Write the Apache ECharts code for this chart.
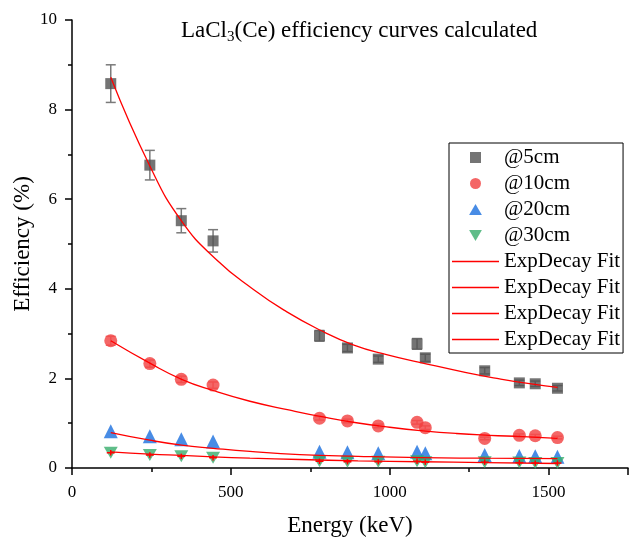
<!DOCTYPE html>
<html>
<head>
<meta charset="utf-8">
<script src="https://cdn.jsdelivr.net/npm/echarts@6/dist/echarts.min.js"></script>
<style>
  html, body { margin: 0; padding: 0; background: #fff; }
  #chart { width: 629px; height: 539px; }
</style>
</head>
<body>
<div id="chart"></div>
<script>
// Gamma-line energies (keV) shared by all four source distances
const energy = [122, 245, 344, 444, 779, 867, 964, 1086, 1112, 1299, 1408, 1458, 1528];

// Measured full-energy-peak efficiencies (%) and their uncertainties
const eff5  = [8.58, 6.76, 5.52, 5.07, 2.95, 2.68, 2.43, 2.77, 2.46, 2.17, 1.90, 1.88, 1.78];
const err5  = [0.42, 0.33, 0.27, 0.25, 0.12, 0.08, 0.07, 0.12, 0.08, 0.07, 0.06, 0.06, 0.06];
const eff10 = [2.84, 2.33, 1.98, 1.85, 1.11, 1.05, 0.94, 1.02, 0.90, 0.66, 0.73, 0.72, 0.68];
const err10 = [0.10, 0.08, 0.07, 0.07, 0.04, 0.04, 0.04, 0.04, 0.04, 0.03, 0.03, 0.03, 0.03];
const eff20 = [0.82, 0.71, 0.64, 0.59, 0.36, 0.35, 0.33, 0.36, 0.33, 0.29, 0.27, 0.26, 0.25];
const eff30 = [0.34, 0.29, 0.26, 0.23, 0.15, 0.14, 0.14, 0.15, 0.13, 0.13, 0.12, 0.11, 0.11];
const err30 = [0.12, 0.12, 0.12, 0.12, 0.12, 0.12, 0.12, 0.12, 0.12, 0.12, 0.12, 0.12, 0.12];

// ExpDecay fit curves, sampled along energy
const fitE5  = [122, 245, 345, 453, 570, 675, 780, 885, 990, 1094, 1241, 1346, 1451, 1528];
const fit5   = [8.72, 6.74, 5.51, 4.66, 3.99, 3.49, 3.08, 2.75, 2.53, 2.36, 2.13, 1.99, 1.87, 1.80];
const fitE10 = [122, 245, 345, 444, 560, 686, 790, 895, 1000, 1105, 1210, 1314, 1419, 1528];
const fit10  = [2.84, 2.34, 1.98, 1.73, 1.49, 1.29, 1.14, 1.01, 0.91, 0.83, 0.77, 0.73, 0.70, 0.66];
const fitE20 = [122, 245, 345, 444, 560, 717, 900, 1100, 1300, 1528];
const fit20  = [0.79, 0.62, 0.51, 0.44, 0.37, 0.30, 0.26, 0.23, 0.22, 0.21];
const fitE30 = [122, 245, 345, 444, 560, 717, 900, 1100, 1300, 1528];
const fit30  = [0.36, 0.31, 0.28, 0.25, 0.22, 0.19, 0.16, 0.14, 0.12, 0.10];

// Axis ticks
const xMajorTicks = [0, 500, 1000, 1500];
const yTicks = [0, 2, 4, 6, 8, 10];

const seriesNames = ['@5cm', '@10cm', '@20cm', '@30cm'];
const fitNames = ['fit5', 'fit10', 'fit20', 'fit30'];
const fitLabel = 'ExpDecay Fit';

const SERIF = "'Liberation Serif', 'Times New Roman', serif";
const colors = ['#515151', '#F14040', '#1A6FDF', '#37AD6B'];

// Legend icons (aspect kept inside the legend item box)
const icons = {
  square: 'path://M0 0H10V10H0Z',
  circle: 'circle',
  up: 'path://M5 0L10 8.6L0 8.6Z',
  down: 'path://M0 0L10 0L5 8.6Z',
  line: 'path://M0 0H47V1.4H0Z'
};
const DOWN_TRIANGLE = 'path://M0 0L10 0L5 8.6Z';

const pairs = (xs, ys) => xs.map((x, i) => [x, ys[i]]);
const triples = (xs, ys, es) => xs.map((x, i) => [x, ys[i], es[i]]);

// Vertical error bar with end caps
function errorBar(color, capHalf) {
  return function (params, api) {
    const x = api.value(0), y = api.value(1), e = api.value(2);
    const top = api.coord([x, y + e]);
    const bot = api.coord([x, y - e]);
    const style = { stroke: color, lineWidth: 1.5 };
    return {
      type: 'group',
      children: [
        { type: 'line', shape: { x1: top[0], y1: top[1], x2: bot[0], y2: bot[1] }, style },
        { type: 'line', shape: { x1: top[0] - capHalf, y1: top[1], x2: top[0] + capHalf, y2: top[1] }, style },
        { type: 'line', shape: { x1: bot[0] - capHalf, y1: bot[1], x2: bot[0] + capHalf, y2: bot[1] }, style }
      ]
    };
  };
}

// Cross-shaped error mark (bar plus centre bar)
function crossBar(color, halfW) {
  return function (params, api) {
    const x = api.value(0), y = api.value(1), e = api.value(2);
    const top = api.coord([x, y + e / 2]);
    const bot = api.coord([x, y - e / 2]);
    const mid = api.coord([x, y]);
    const style = { stroke: color, lineWidth: 1.5 };
    return {
      type: 'group',
      children: [
        { type: 'line', shape: { x1: top[0], y1: top[1], x2: bot[0], y2: bot[1] }, style },
        { type: 'line', shape: { x1: mid[0] - halfW, y1: mid[1], x2: mid[0] + halfW, y2: mid[1] }, style }
      ]
    };
  };
}

const chart = echarts.init(document.getElementById('chart'), null, { renderer: 'canvas' });

const axisLineStyle = { color: '#000', width: 1.5 };
const fitLine = { color: '#ff0000', width: 1.3 };

const option = {
  animation: false,
  backgroundColor: '#fff',
  title: {
    text: '{n|LaCl}{s|3}{n|(Ce) efficiency curves calculated}',
    left: 176,
    top: 12,
    textStyle: {
      fontFamily: SERIF,
      color: '#000',
      fontWeight: 'normal',
      rich: {
        n: { fontFamily: SERIF, fontSize: 23, color: '#000', lineHeight: 28 },
        s: { fontFamily: SERIF, fontSize: 15, color: '#000', lineHeight: 28, padding: [12, 0, 0, 0] }
      }
    }
  },
  grid: { left: 72, right: 1, top: 20, bottom: 71, containLabel: false, outerBoundsMode: 'none' },
  legend: {
    orient: 'vertical',
    left: 449,
    top: 143,
    padding: [4, 3, 3, 3],
    itemGap: 5,
    itemWidth: 47,
    itemHeight: 11,
    symbolKeepAspect: true,
    borderColor: '#000',
    borderWidth: 1,
    borderRadius: 0,
    backgroundColor: '#fff',
    textStyle: { fontFamily: SERIF, fontSize: 21, color: '#000', lineHeight: 21 },
    data: [
      { name: '@5cm', icon: icons.square },
      { name: '@10cm', icon: icons.circle },
      { name: '@20cm', icon: icons.up },
      { name: '@30cm', icon: icons.down },
      { name: 'fit5', icon: icons.line },
      { name: 'fit10', icon: icons.line },
      { name: 'fit20', icon: icons.line },
      { name: 'fit30', icon: icons.line }
    ],
    formatter: name => (fitNames.indexOf(name) >= 0 ? fitLabel : name)
  },
  xAxis: [
    {
      type: 'value', min: 0, max: 1750, interval: 250,
      position: 'bottom',
      name: 'Energy (keV)', nameLocation: 'middle', nameGap: 46, nameMoveOverlap: false,
      nameTextStyle: { fontFamily: SERIF, fontSize: 23, color: '#000' },
      axisLine: { show: true, onZero: false, lineStyle: axisLineStyle },
      axisTick: { show: true, inside: false, length: 4, lineStyle: axisLineStyle },
      axisLabel: {
        fontFamily: SERIF, fontSize: 17, color: '#000', margin: 16,
        formatter: v => (xMajorTicks.indexOf(v) >= 0 ? String(v) : '')
      },
      splitLine: { show: false }
    },
    {
      type: 'value', min: 0, max: 1750, interval: 500,
      position: 'bottom',
      axisLine: { show: false, onZero: false },
      axisTick: { show: true, inside: false, length: 7, lineStyle: axisLineStyle },
      axisLabel: { show: false },
      splitLine: { show: false }
    }
  ],
  yAxis: {
    type: 'value', min: 0, max: 10, interval: 2,
    name: 'Efficiency (%)', nameLocation: 'middle', nameGap: 38, nameMoveOverlap: false,
    nameTextStyle: { fontFamily: SERIF, fontSize: 23, color: '#000' },
    axisLine: { show: true, onZero: false, lineStyle: axisLineStyle },
    axisTick: { show: true, inside: false, length: 7, lineStyle: axisLineStyle },
    minorTick: { show: true, splitNumber: 2, length: 4, lineStyle: axisLineStyle },
    axisLabel: {
      fontFamily: SERIF, fontSize: 17, color: '#000', margin: 15,
      formatter: v => (yTicks.indexOf(v) >= 0 ? String(v) : '')
    },
    splitLine: { show: false }
  },
  series: [
    // error bars
    { type: 'custom', name: 'err5', data: triples(energy, eff5, err5), renderItem: errorBar('#7a7a7a', 5), encode: { x: 0, y: 1 }, z: 1, silent: true },
    { type: 'custom', name: 'err10', data: triples(energy, eff10, err10), renderItem: errorBar('#f58a8a', 5), encode: { x: 0, y: 1 }, z: 1, silent: true },
    // measured points
    { type: 'scatter', name: '@5cm', data: pairs(energy, eff5), symbol: 'rect', symbolSize: 11, itemStyle: { color: colors[0] }, z: 2 },
    { type: 'scatter', name: '@10cm', data: pairs(energy, eff10), symbol: 'circle', symbolSize: 13, itemStyle: { color: colors[1] }, z: 2 },
    { type: 'scatter', name: '@20cm', data: pairs(energy, eff20), symbol: 'triangle', symbolSize: 14, itemStyle: { color: colors[2] }, z: 2 },
    { type: 'scatter', name: '@30cm', data: pairs(energy, eff30), symbol: DOWN_TRIANGLE, symbolSize: [14, 12], itemStyle: { color: colors[3] }, z: 2 },
    // fit curves
    { type: 'line', name: 'fit5', data: pairs(fitE5, fit5), smooth: 0.5, symbol: 'none', showSymbol: false, lineStyle: fitLine, itemStyle: { color: '#ff0000' }, z: 3 },
    { type: 'line', name: 'fit10', data: pairs(fitE10, fit10), smooth: 0.5, symbol: 'none', showSymbol: false, lineStyle: fitLine, itemStyle: { color: '#ff0000' }, z: 3 },
    { type: 'line', name: 'fit20', data: pairs(fitE20, fit20), smooth: 0.5, symbol: 'none', showSymbol: false, lineStyle: fitLine, itemStyle: { color: '#ff0000' }, z: 3 },
    { type: 'line', name: 'fit30', data: pairs(fitE30, fit30), smooth: 0.5, symbol: 'none', showSymbol: false, lineStyle: fitLine, itemStyle: { color: '#ff0000' }, z: 3 },
    // error marks on the 30 cm points
    { type: 'custom', name: 'err30', data: triples(energy, eff30, err30), renderItem: crossBar('#ff0000', 4), encode: { x: 0, y: 1 }, z: 4, silent: true }
  ]
};

chart.setOption(option);
</script>
</body>
</html>
